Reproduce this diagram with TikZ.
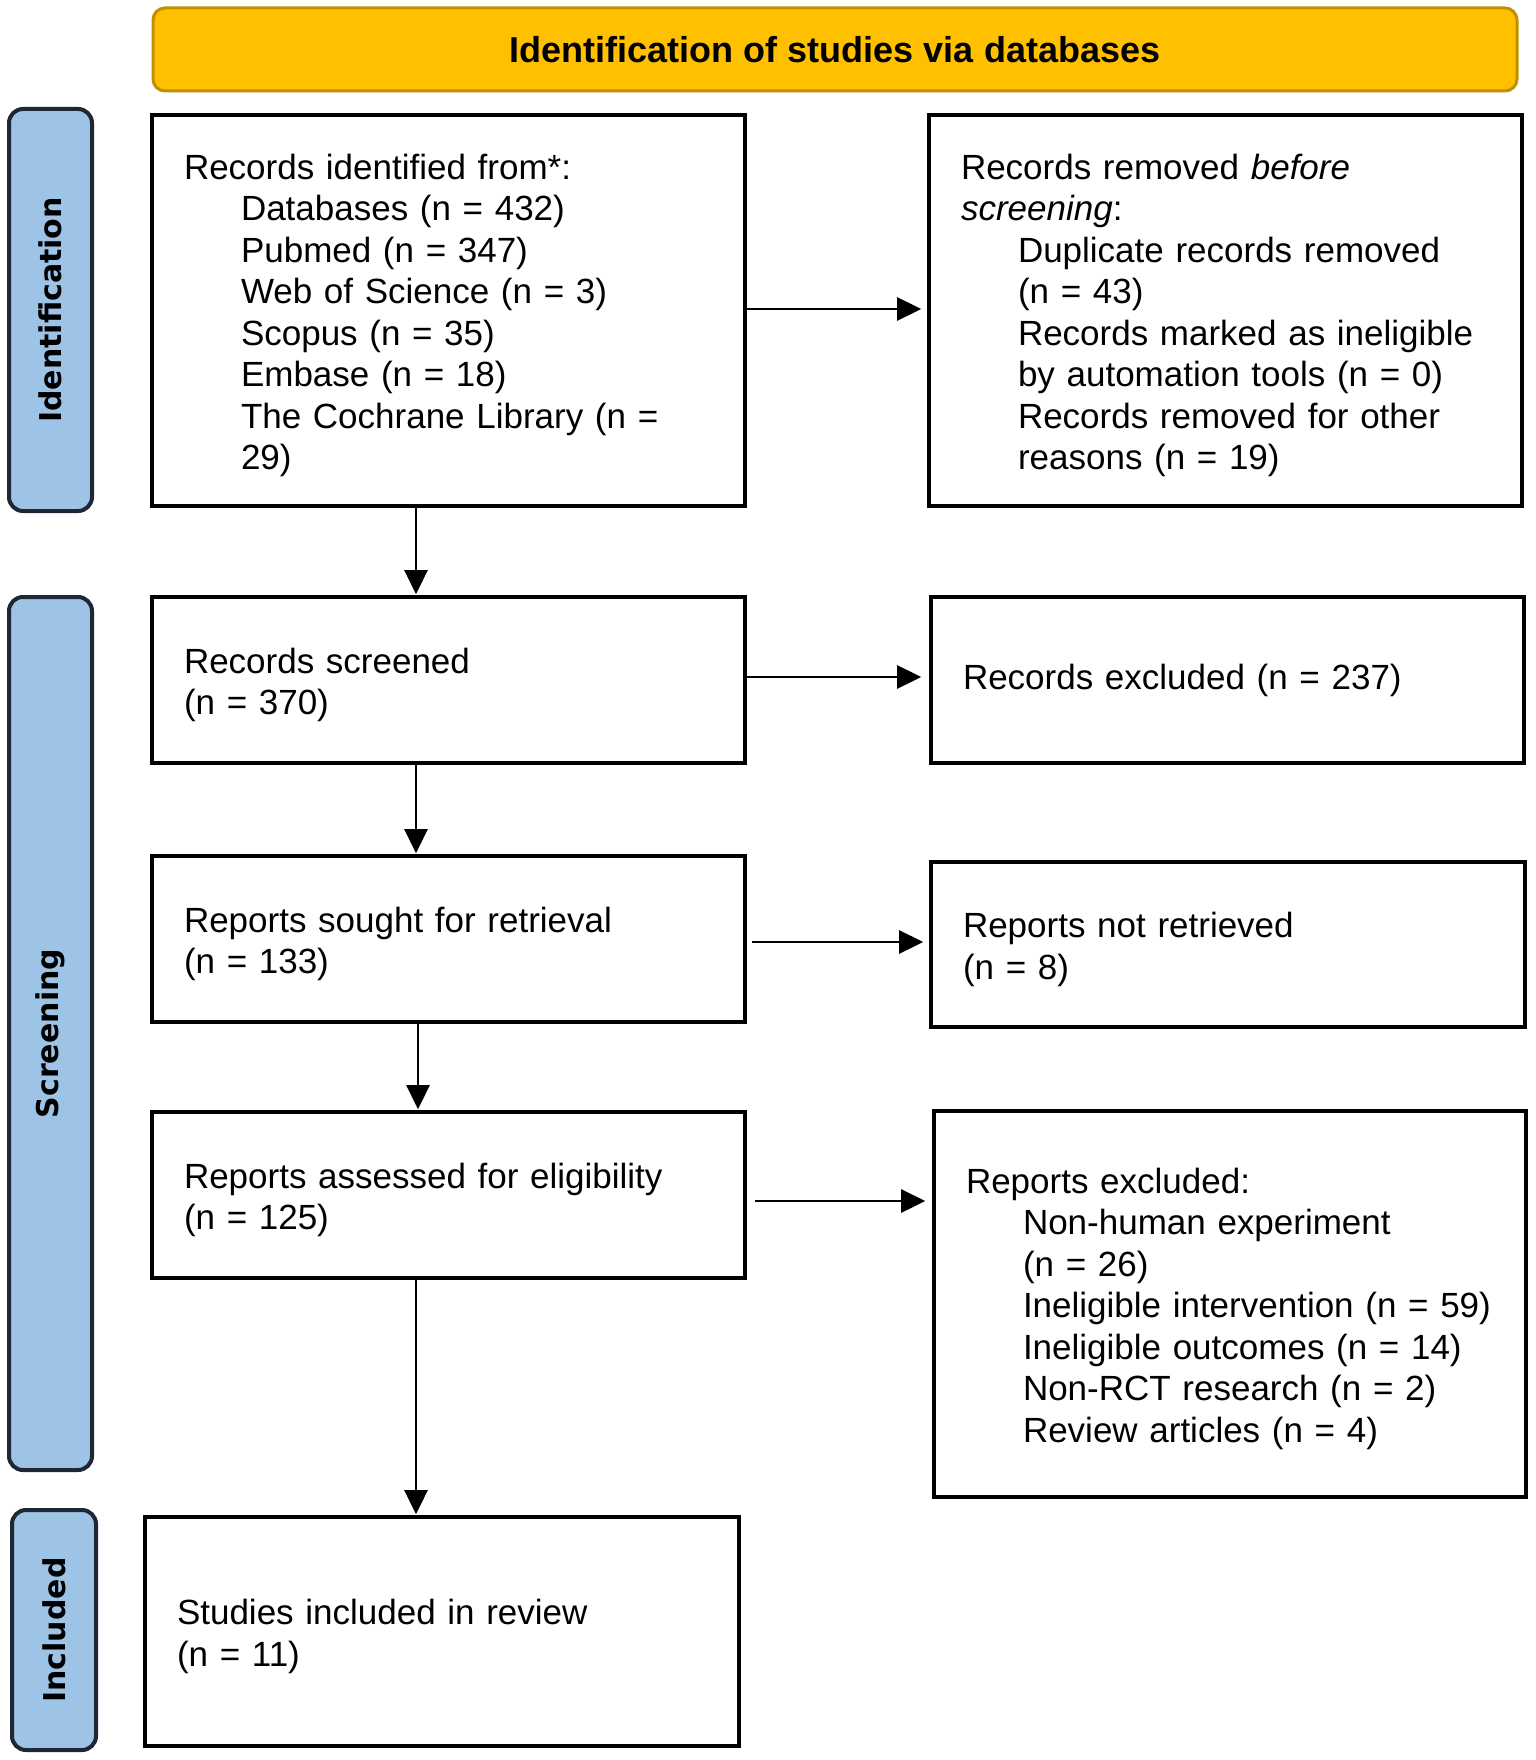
\documentclass[tikz,border=0pt]{standalone}
\usepackage{fontspec}
\setmainfont{Liberation Sans}
\newfontfamily\sidefont{DejaVu Sans}
\usetikzlibrary{arrows.meta}
\definecolor{bannerfill}{HTML}{FFC000}
\definecolor{bannerdraw}{HTML}{BF9000}
\definecolor{sidefill}{HTML}{9DC3E6}
\definecolor{sidedraw}{HTML}{1E2733}
\newcommand\ind{\hspace*{57pt}}
\newcommand\myline[1]{\mbox{#1}}
\newcommand\topstrut{\rule{0pt}{35pt}}
\tikzset{
  flowbox/.style={draw=black, line width=3.6pt, fill=white, inner xsep=32pt, inner ysep=0pt,
    align=left, font=\fontsize{35}{41.5}\selectfont},
  banner/.style={draw=bannerdraw, fill=bannerfill, line width=3pt, rounded corners=12pt,
    font=\fontsize{36}{41.5}\selectfont\bfseries, inner sep=0pt},
  sidelabel/.style={draw=sidedraw, fill=sidefill, line width=4pt, rounded corners=14pt,
    font=\sidefont\fontsize{30}{36}\selectfont\bfseries, inner sep=0pt, rotate=90},
  arr/.style={line width=2.6pt, -{Triangle[length=24pt,width=23pt]}}
}
\begin{document}
\begin{tikzpicture}[x=1pt,y=-1pt]
\useasboundingbox (0,0) rectangle (1535,1760);
% banner
\node[banner, minimum width=1364pt, minimum height=83pt] (ban) at (835,49.5) {Identification of studies via databases};
% side labels
\node[sidelabel, minimum width=402pt, minimum height=83pt] (lid) at (50.5,310) {Identification};
\node[sidelabel, minimum width=873pt, minimum height=83pt] (lscr) at (50.5,1033.5) {Screening};
\node[sidelabel, minimum width=240pt, minimum height=84pt] (linc) at (54,1630) {Included};
% boxes
\node[flowbox, text width=529pt, minimum height=391pt] (b1) at (448.5,310.5) {%
\topstrut\myline{Records identified from*:}\\
\ind\myline{Databases (n = 432)}\\
\ind\myline{Pubmed (n = 347)}\\
\ind\myline{Web of Science (n = 3)}\\
\ind\myline{Scopus (n = 35)}\\
\ind\myline{Embase (n = 18)}\\
\ind\myline{The Cochrane Library (n =}\\
\ind\myline{29)}};
\node[flowbox, text width=529pt, minimum height=391pt] (b2) at (1225.5,310.5) {%
\topstrut\myline{Records removed \textit{before}}\\
\myline{\textit{screening}:}\\
\ind\myline{Duplicate records removed}\\
\ind\myline{(n = 43)}\\
\ind\myline{Records marked as ineligible}\\
\ind\myline{by automation tools (n = 0)}\\
\ind\myline{Records removed for other}\\
\ind\myline{reasons (n = 19)}};
\node[flowbox, text width=529pt, minimum height=166pt] (b3) at (448.5,680) {%
\topstrut\myline{Records screened}\\
\myline{(n = 370)}};
\node[flowbox, text width=529pt, minimum height=166pt] (b4) at (1227.5,680) {%
\myline{Records excluded (n = 237)}};
\node[flowbox, text width=529pt, minimum height=166pt] (b5) at (448.5,939) {%
\topstrut\myline{Reports sought for retrieval}\\
\myline{(n = 133)}};
\node[flowbox, text width=530pt, minimum height=165pt] (b6) at (1228,944.5) {%
\topstrut\myline{Reports not retrieved}\\
\myline{(n = 8)}};
\node[flowbox, text width=529pt, minimum height=166pt] (b7) at (448.5,1195) {%
\topstrut\myline{Reports assessed for eligibility}\\
\myline{(n = 125)}};
\node[flowbox, text width=528pt, minimum height=386pt] (b8) at (1230,1304) {%
\topstrut\myline{Reports excluded:}\\
\ind\myline{Non-human experiment}\\
\ind\myline{(n = 26)}\\
\ind\myline{Ineligible intervention (n = 59)}\\
\ind\myline{Ineligible outcomes (n = 14)}\\
\ind\myline{Non-RCT research (n = 2)}\\
\ind\myline{Review articles (n = 4)}};
\node[flowbox, text width=530pt, minimum height=229pt] (b9) at (442,1631.5) {%
\topstrut\myline{Studies included in review}\\
\myline{(n = 11)}};
% connectors
\draw[arr, shorten >=1pt] ([xshift=-32.5pt]b1.south) -- ([xshift=-32.5pt]b3.north);
\draw[arr, shorten >=1pt] ([xshift=-32.5pt]b3.south) -- ([xshift=-32.5pt]b5.north);
\draw[arr, shorten >=1pt] ([xshift=-30.5pt]b5.south) -- ([xshift=-30.5pt]b7.north);
\draw[arr, shorten >=1pt] ([xshift=-32.5pt]b7.south) -- ([xshift=-26pt]b9.north);
\draw[arr] ([yshift=1.5pt]b1.east) -- ([xshift=-6pt,yshift=1.5pt]b2.west);
\draw[arr] ([yshift=3pt]b3.east) -- ([xshift=-8pt,yshift=3pt]b4.west);
\draw[arr] ([xshift=5pt,yshift=-3pt]b5.east) -- ([xshift=-6pt,yshift=2.5pt]b6.west);
\draw[arr] ([xshift=8pt,yshift=-6pt]b7.east) -- ([xshift=-7pt,yshift=103pt]b8.west);
\end{tikzpicture}
\end{document}
